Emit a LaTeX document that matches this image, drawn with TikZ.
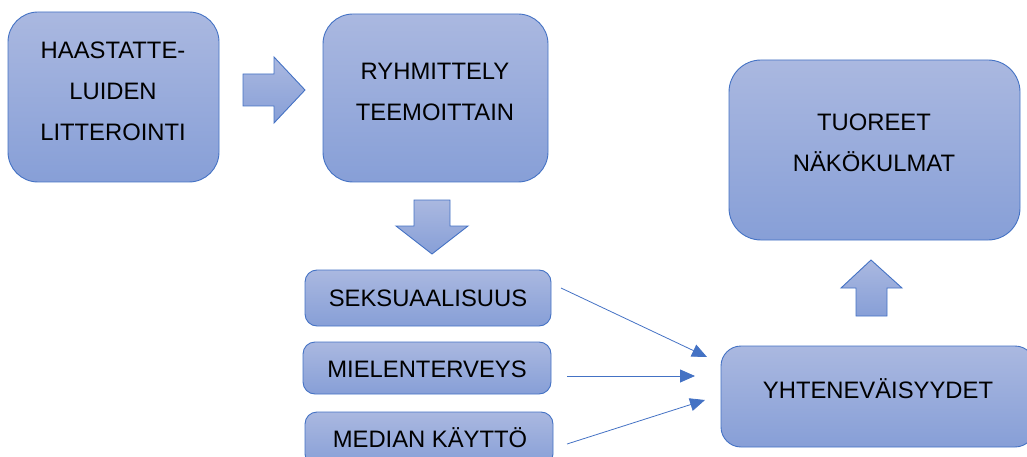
\documentclass[tikz,border=0pt]{standalone}
\usepackage{fontspec}
\setmainfont{Liberation Sans}
\usetikzlibrary{arrows.meta,calc}
\definecolor{bordc}{RGB}{68,114,196}
\definecolor{topc}{RGB}{170,184,224}
\definecolor{botc}{RGB}{135,159,215}
\begin{document}
\begin{tikzpicture}[x=1pt,y=-1pt,
  box/.style={draw=bordc, line width=0.9pt, top color=topc, bottom color=botc, inner sep=0pt, outer sep=0pt},
  bigbox/.style={box, rounded corners=30pt},
  smallbox/.style={box, rounded corners=12pt},
  lbl/.style={font=\fontsize{23.8}{41}\selectfont, align=center, inner sep=0pt, text=black},
  blockarrow/.style={draw=bordc, line width=0.9pt, top color=topc, bottom color=botc, line join=miter},
  conn/.style={draw=bordc, line width=0.8pt, -{Triangle[length=15pt,width=13pt]}}]
\useasboundingbox (0,0) rectangle (1027,457);
\clip (0,0) rectangle (1027,457);
% boxes
\node[bigbox, minimum width=211pt, minimum height=170pt] (b1) at (113.5,97) {};
\node[bigbox, minimum width=225pt, minimum height=168pt] (b2) at (435.5,98) {};
\node[smallbox, minimum width=246pt, minimum height=56pt] (b3) at (428,298) {};
\node[smallbox, minimum width=248pt, minimum height=52pt] (b4) at (427,368) {};
\node[smallbox, minimum width=248pt, minimum height=54pt] (b5) at (429,439) {};
\node[bigbox, rounded corners=32pt, minimum width=291pt, minimum height=180pt] (b6) at (874.5,150) {};
\node[box, rounded corners=20pt, minimum width=314pt, minimum height=101pt] (b7) at (878,396.5) {};
% texts
\node[lbl] (t1) at (113,91) {HAASTATTE-\\LUIDEN\\LITTEROINTI};
\node[lbl] (t2) at (435,92) {RYHMITTELY\\TEEMOITTAIN};
\node[lbl, anchor=base] (t3) at (428,306) {SEKSUAALISUUS};
\node[lbl, anchor=base] (t4) at (427,377) {MIELENTERVEYS};
\node[lbl, anchor=base] (t5) at (430,447) {MEDIAN KÄYTTÖ};
\node[lbl] (t6) at (874,143) {TUOREET\\NÄKÖKULMAT};
\node[lbl, anchor=base] (t7) at (878,398.5) {YHTENEVÄISYYDET};
% block arrows
\draw[blockarrow] (243,74) -- (274,74) -- (274,57) -- (305,90) -- (274,123) -- (274,106) -- (243,106) -- cycle;
\draw[blockarrow] (414,200) -- (450,200) -- (450,226) -- (468,226) -- (432,254) -- (396,226) -- (414,226) -- cycle;
\draw[blockarrow] (856,316) -- (856,288) -- (841,288) -- (871,260) -- (902,288) -- (887,288) -- (887,316) -- cycle;
% connectors
\coordinate (s3) at ($(b3.east)+(10,-10)$);
\coordinate (s4) at ($(b4.east)+(16,8)$);
\coordinate (s5) at ($(b5.east)+(14,5)$);
\coordinate (e3) at ($(b7.west)+(-14,-39.5)$);
\coordinate (e4) at ($(b7.west)+(-26,-20.5)$);
\coordinate (e5) at ($(b7.west)+(-16,3.5)$);
\draw[conn] (s3) -- (e3);
\draw[conn] (s4) -- (e4);
\draw[conn] (s5) -- (e5);
\end{tikzpicture}
\end{document}
